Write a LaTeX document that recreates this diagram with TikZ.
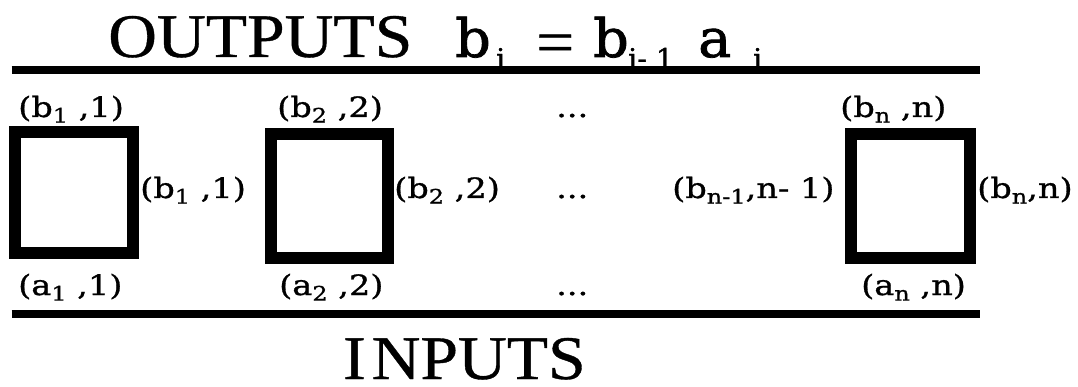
\documentclass[tikz,border=0pt]{standalone}
\usepackage{fontspec}
\setmainfont{DejaVu Serif}
\newfontfamily\lblfont[FakeStretch=1.2,FakeBold=1.0]{DejaVu Serif}
\newfontfamily\titlefont[FakeStretch=1.09,FakeBold=0.6]{Liberation Serif}
\newfontfamily\mathfont[FakeStretch=1.05,FakeBold=1.5]{DejaVu Serif}
\newcommand{\lsub}[1]{\raisebox{-0.2em}{\fontsize{20}{20}\selectfont #1}}
\begin{document}
\begin{tikzpicture}[x=1pt,y=-1pt,
  rail/.style={line width=8pt},
  cell/.style={draw, line width=12pt, inner sep=0pt},
  lbl/.style={anchor=base west, inner sep=0pt, font=\lblfont\fontsize{28}{28}\selectfont},
  big/.style={anchor=base west, inner sep=0pt, font=\titlefont\fontsize{62}{62}\selectfont},
  bigm/.style={anchor=base west, inner sep=0pt, font=\mathfont\fontsize{53}{53}\selectfont},
  bigs/.style={anchor=base west, inner sep=0pt, font=\mathfont\fontsize{27}{27}\selectfont}]
\useasboundingbox (0,0) rectangle (1078,387);
% rails
\draw[rail] (11.5,70) -- (980,70);
\draw[rail] (11.5,313.5) -- (980,313.5);
% title
\node[big] (outputs) at (108,57) {OUTPUTS};
\node[bigm] (tb1) at (455,57) {b};
\node[bigs] (ts1) at (496,68) {i};
\node[big] (teq) at (536,63) {=};
\node[bigm] (tb2) at (593,57) {b};
\node[bigs] (ts2) at (628,68) {i- 1};
\node[bigm] (ta) at (698,57) {a};
\node[bigs] (ts3) at (753,68) {i};
\node[big] (inputs) at (343,379) {I\kern6pt NPUTS};
% boxes
\node[cell, minimum width=118pt, minimum height=121pt] (box1) at (74,192.75) {};
\node[cell, minimum width=116.5pt, minimum height=123.7pt] (box2) at (329.25,196.15) {};
\node[cell, minimum width=119pt, minimum height=123.5pt] (box3) at (910,196.25) {};
% top labels
\node[lbl] (o1) at (18,117) {(b\lsub{1} ,1)};
\node[lbl] (o2) at (277,117) {(b\lsub{2} ,2)};
\node[lbl] (od) at (556,117) {...};
\node[lbl] (on) at (840,117) {(b\lsub{n} ,n)};
% middle labels
\node[lbl] (m1) at (140,198) {(b\lsub{1} ,1)};
\node[lbl] (m2) at (394,198) {(b\lsub{2} ,2)};
\node[lbl] (md) at (556,198) {...};
\node[lbl] (mn1) at (672,198) {(b\lsub{n-1},n- 1)};
\node[lbl] (mn) at (977,198) {(b\lsub{n},n)};
% bottom labels
\node[lbl] (i1) at (18,295) {(a\lsub{1} ,1)};
\node[lbl] (i2) at (279,295) {(a\lsub{2} ,2)};
\node[lbl] (id) at (556,295) {...};
\node[lbl] (in) at (861,295) {(a\lsub{n} ,n)};
\end{tikzpicture}
\end{document}
